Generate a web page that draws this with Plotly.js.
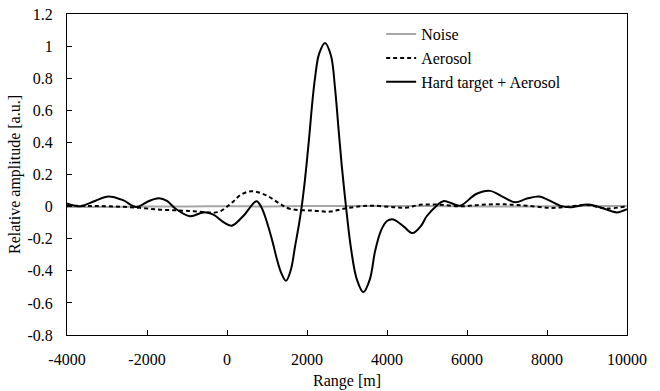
<!DOCTYPE html>
<html>
<head>
<meta charset="utf-8">
<script src="https://cdn.plot.ly/plotly-3.0.1.min.js"></script>
<style>
html,body{margin:0;padding:0;background:#fff;}
#chart{width:660px;height:391px;}
</style>
</head>
<body>
<div id="chart"></div>
<script>
// Noise
const noiseX = [-4000,-3000,-2000,-1000,0,1000,2000,3000,4000,5000,6000,7000,8000,9000,10000];
const noiseY = [-0.003,-0.002,0.0,0.001,0.002,0.001,0.003,0.004,0.004,0.003,0.002,0.001,0.002,0.003,0.003];
// Aerosol
const aeroX = [-4000,-3500,-2925,-2275,-1675,-1200,-842,-500,-342,-175,0,150,325,617,992,1325,1575,2158,2575,2908,3325,3658,4158,4500,4825,5300,5825,6300,6742,7100,7492,8075,8575,9000,9500,10000];
const aeroY = [0.006,0.004,0.002,-0.006,-0.019,-0.024,-0.029,-0.036,-0.038,-0.03,0.0,0.03,0.07,0.096,0.069,0.017,-0.014,-0.025,-0.031,-0.014,0.002,0.006,-0.004,-0.006,0.011,0.012,0.002,0.01,0.015,0.012,0.006,-0.008,0.0,0.01,-0.012,0.004];
// Hard target + Aerosol
const hardX = [-4000,-3850,-3675,-3300,-2967,-2600,-2275,-1950,-1700,-1500,-1300,-925,-592,-342,-100,117,400,740,850,950,1050,1150,1250,1350,1475,1600,1700,1800,1867,1950,2050,2133,2200,2300,2450,2600,2700,2783,2867,2975,3100,3242,3408,3575,3700,3850,4000,4160,4420,4640,4850,4992,5242,5408,5600,5825,6242,6575,6908,7200,7500,7800,8000,8325,8575,9033,9400,9742,10000];
const hardY = [0.02,0.008,0.002,0.035,0.063,0.04,-0.002,0.035,0.052,0.035,-0.01,-0.06,-0.036,-0.05,-0.095,-0.119,-0.06,0.034,0.0,-0.06,-0.14,-0.23,-0.33,-0.41,-0.462,-0.39,-0.25,-0.11,0.0,0.17,0.42,0.65,0.8,0.95,1.02,0.94,0.74,0.5,0.26,0.0,-0.26,-0.45,-0.533,-0.45,-0.28,-0.15,-0.09,-0.08,-0.125,-0.165,-0.12,-0.06,0.006,0.034,0.022,0.006,0.08,0.098,0.059,0.027,0.05,0.063,0.045,0.006,-0.004,0.013,-0.01,-0.036,-0.016];

const xTicks = [-4000,-2000,0,2000,4000,6000,8000,10000];
const yTicks = [-0.8,-0.6,-0.4,-0.2,0,0.2,0.4,0.6,0.8,1,1.2];
const yTickText = ['-0.8','-0.6','-0.4','-0.2','0','0.2','0.4','0.6','0.8','1','1.2'];

const font = {family: 'Liberation Serif, Times New Roman, serif', size: 16, color: '#000'};

const traces = [
  {x: noiseX, y: noiseY, name: 'Noise', mode: 'lines', legendgroup: 'a',
   line: {color: '#a6a6a6', width: 2, shape: 'spline'}},
  {x: aeroX, y: aeroY, name: 'Aerosol', mode: 'lines', legendgroup: 'b',
   line: {color: '#000', width: 2, dash: '4px,3px', shape: 'spline'}},
  {x: hardX, y: hardY, name: 'Hard target + Aerosol', mode: 'lines', legendgroup: 'c',
   line: {color: '#000', width: 2, shape: 'spline'}}
];

const layout = {
  width: 660, height: 391,
  margin: {l: 67, r: 33, t: 14, b: 56},
  paper_bgcolor: '#fff', plot_bgcolor: '#fff',
  font: font,
  showlegend: true,
  legend: {x: 0.561, y: 0.99, xanchor: 'left', yanchor: 'top', font: font,
           bgcolor: 'rgba(0,0,0,0)', traceorder: 'grouped', tracegroupgap: 0, itemwidth: 30},
  xaxis: {range: [-4000, 10000], tickvals: xTicks, ticktext: xTicks.map(String),
          ticks: 'inside', ticklen: 5, tickcolor: '#000', showline: true, linecolor: '#000', linewidth: 1,
          mirror: true, showgrid: false, zeroline: false, tickfont: font, ticklabelstandoff: 10,
          title: {text: 'Range [m]', font: font, standoff: 7}},
  yaxis: {range: [-0.8, 1.2], tickvals: yTicks, ticktext: yTickText,
          ticks: 'inside', ticklen: 5, tickcolor: '#000', showline: true, linecolor: '#000', linewidth: 1,
          mirror: true, showgrid: false, zeroline: false, tickfont: font, ticklabelstandoff: 10,
          title: {text: 'Relative amplitude [a.u.]', font: font, standoff: 2}}
};

Plotly.newPlot('chart', traces, layout, {displayModeBar: false, staticPlot: true});
</script>
</body>
</html>
